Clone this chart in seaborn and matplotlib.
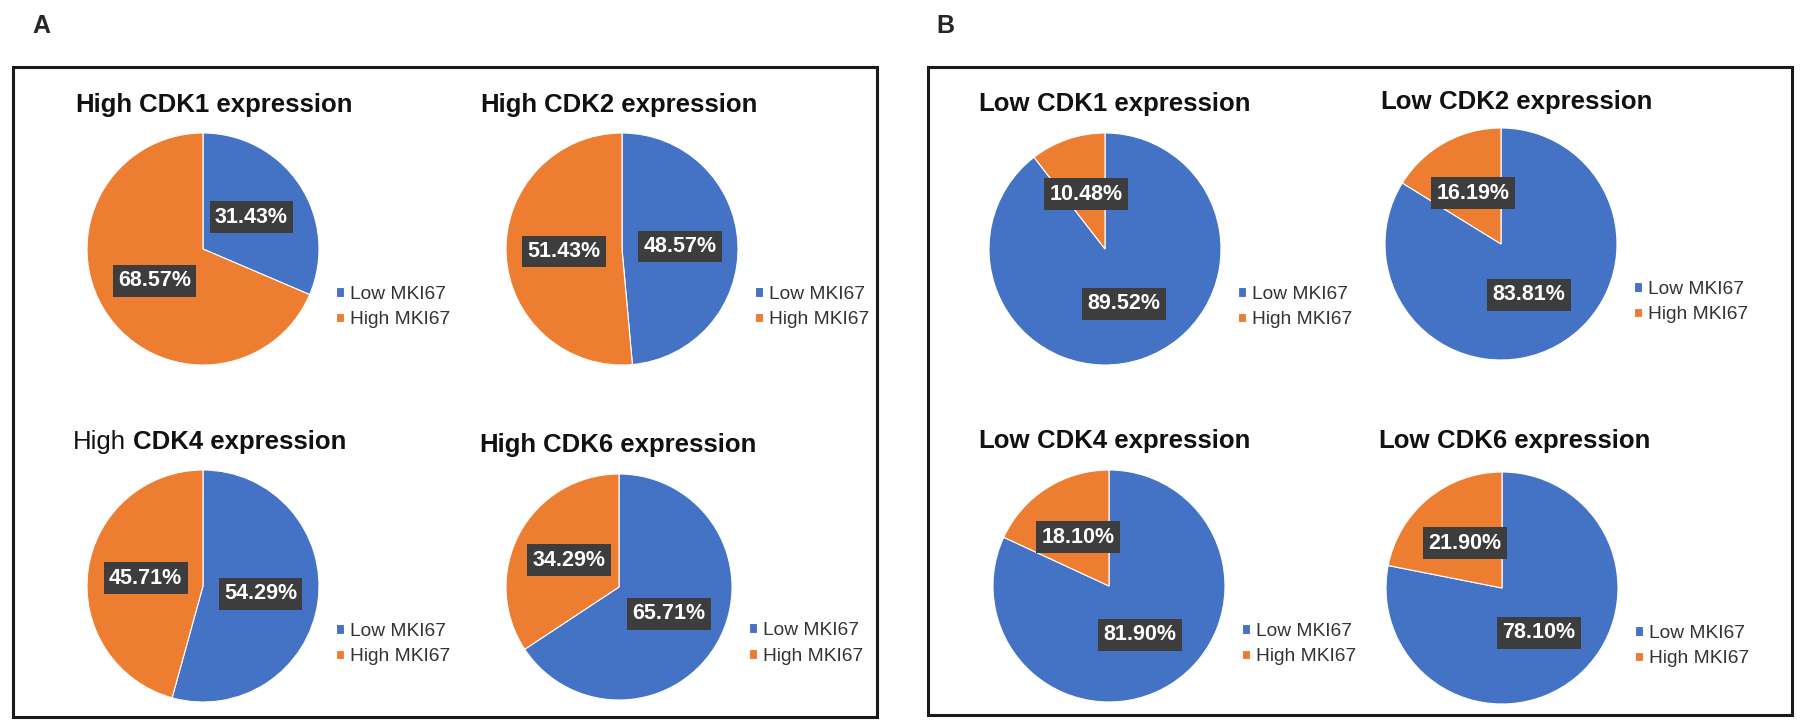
import matplotlib
matplotlib.use('Agg')
import matplotlib.pyplot as plt
import seaborn as sns
from matplotlib.patches import Rectangle

sns.set_style('white')
plt.rcParams['font.family'] = ['Liberation Sans', 'DejaVu Sans']

# dados dos graficos
titulos = ['High CDK1 expression', 'High CDK2 expression', 'High CDK4 expression', 'High CDK6 expression',
           'Low CDK1 expression', 'Low CDK2 expression', 'Low CDK4 expression', 'Low CDK6 expression']
low_mki67 = [31.43, 48.57, 54.29, 65.71, 89.52, 83.81, 81.90, 78.10]
high_mki67 = [68.57, 51.43, 45.71, 34.29, 10.48, 16.19, 18.10, 21.90]
legendas = ['Low MKI67', 'High MKI67']
paineis = ['A', 'B']

# peso da primeira palavra do titulo (no CDK4 "High" nao esta em negrito)
peso_primeira = ['bold', 'bold', 'normal', 'bold', 'bold', 'bold', 'bold', 'bold']

cores = ['#4472C4', '#ED7D31']

# layout em pixels (imagem 1800x725)
W, H = 1800, 725
centros = [(203, 249, 116), (622, 249, 116), (203, 586, 116), (619, 587, 113),
           (1105, 249, 116), (1501, 244, 116), (1109, 586, 116), (1502, 588, 116)]
pos_titulo = [(75, 112), (480, 112), (73, 449), (479, 452),
              (978, 111), (1380, 109), (978, 448), (1378, 448)]
caixas = [(13, 67, 877, 717), (928, 67, 1792, 715)]
pos_letra = [(32, 33), (936, 33)]

fig = plt.figure(figsize=(18, 7.25), dpi=100)

for i in range(len(titulos)):
    cx, cy, r = centros[i]
    ax = fig.add_axes([(cx - r) / W, 1 - (cy + r) / H, 2 * r / W, 2 * r / H])
    wedges, _, autotexts = ax.pie(
        [low_mki67[i], high_mki67[i]],
        colors=cores,
        startangle=90,
        counterclock=False,
        autopct='%.2f%%',
        pctdistance=0.5,
        wedgeprops=dict(edgecolor='white', linewidth=0.8),
        textprops=dict(color='white', fontsize=15.5, fontweight='bold')
    )
    for t in autotexts:
        t.set_bbox(dict(boxstyle='square,pad=0.25', facecolor='#3d3d3d', edgecolor='none'))
    ax.set_xlim(-1, 1)
    ax.set_ylim(-1, 1)

    ax.legend(wedges, legendas, loc='center left', bbox_to_anchor=(1.075, 0.25),
              frameon=False, fontsize=13.8, labelcolor='#333333',
              handlelength=0.42, handleheight=0.42, handletextpad=0.3,
              labelspacing=0.45, borderpad=0, borderaxespad=0)

    # titulo
    tx, ty = pos_titulo[i]
    primeira, resto = titulos[i].split(' ', 1)
    t1 = fig.text(tx / W, 1 - ty / H, primeira, fontsize=18.5, fontweight=peso_primeira[i],
                  color='#111111', ha='left', va='baseline')
    ax.annotate(' ' + resto, xy=(1, 0), xycoords=t1, ha='left', va='bottom',
                fontsize=18.5, fontweight='bold', color='#111111', annotation_clip=False)

# molduras dos paineis
for (x0, y0, x1, y1) in caixas:
    fig.add_artist(Rectangle((x0 / W, 1 - y1 / H), (x1 - x0) / W, (y1 - y0) / H,
                             transform=fig.transFigure, fill=False, lw=2.2, edgecolor='#1a1a1a'))

for letra, (lx, ly) in zip(paineis, pos_letra):
    fig.text(lx / W, 1 - ly / H, letra, fontsize=18, fontweight='bold', ha='left', va='baseline')

fig.savefig('out.png', dpi=100)
